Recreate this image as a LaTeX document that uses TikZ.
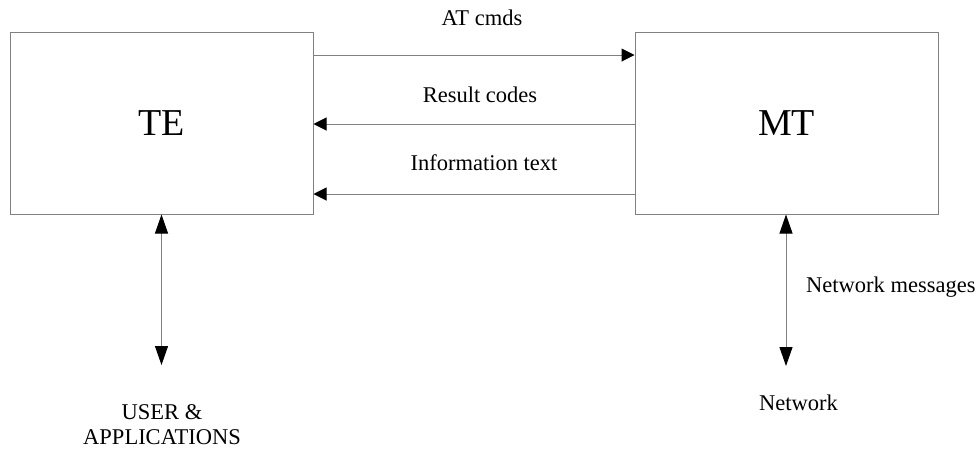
\documentclass[tikz,border=0pt]{standalone}
\usepackage{fontspec}
\setmainfont{Liberation Serif}
\usetikzlibrary{arrows.meta}
\begin{document}
\begin{tikzpicture}[x=1pt,y=-1pt,
  box/.style={draw=black!50, line width=1pt, minimum width=303pt, minimum height=182pt, inner sep=0pt, font=\fontsize{38}{40}\selectfont},
  lbl/.style={inner sep=0pt, font=\fontsize{22.5}{25}\selectfont},
  hline/.style={draw=black!50, line width=1pt, -{Triangle[length=13pt,width=13pt,color=black]}},
  vline/.style={draw=black!50, line width=1pt, {Triangle[length=19pt,width=13pt,color=black]}-{Triangle[length=19pt,width=13pt,color=black]}}]
\useasboundingbox (0,0) rectangle (977,451);
\node[box] (te) at (161.5,123) {TE};
\node[box] (mt) at (786.5,123) {MT};
\coordinate (y1) at (0,55);
\coordinate (y2) at (0,124);
\coordinate (y3) at (0,194);
\draw[hline] (te.east |- y1) -- (mt.west |- y1);
\draw[hline] (mt.west |- y2) -- (te.east |- y2);
\draw[hline] (mt.west |- y3) -- (te.east |- y3);
\node[lbl] (atc) at (482,18) {AT cmds};
\node[lbl] (rc) at (480,95) {Result codes};
\node[lbl] (it) at (484,163) {Information text};
\coordinate (uend) at (161.5,365);
\coordinate (nend) at (786,366);
\draw[vline] (te.south) -- (uend);
\draw[vline] (mt.south -| nend) -- (nend);
\node[lbl, align=center] (user) at (162,425) {USER \&\\APPLICATIONS};
\node[lbl, anchor=west] (nm) at (806,287) {Network messages};
\node[lbl, anchor=west] (net) at (759,403) {Network};
\end{tikzpicture}
\end{document}
